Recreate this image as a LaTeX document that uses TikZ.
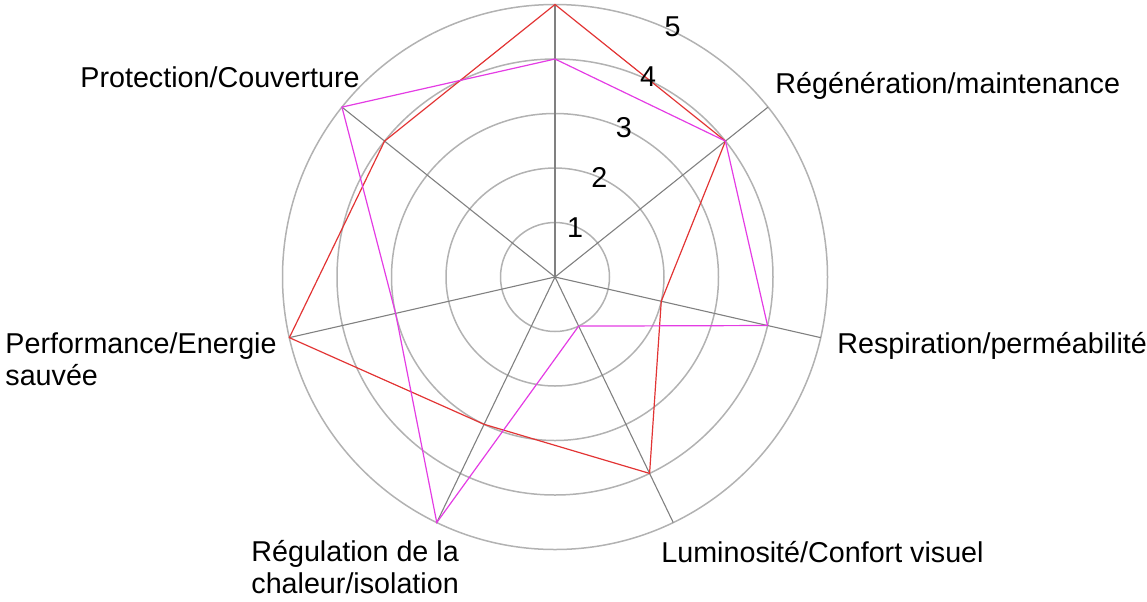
\documentclass[tikz,border=0pt]{standalone}
\usepackage{fontspec}
\setmainfont{Liberation Sans}
\definecolor{ringgray}{RGB}{178,178,178}
\definecolor{axisgray}{RGB}{128,128,128}
\definecolor{redline}{RGB}{226,52,52}
\definecolor{magline}{RGB}{228,60,228}
\begin{document}
\begin{tikzpicture}[x=0.5pt,y=-0.5pt,
  ring/.style={draw=ringgray,line width=0.75pt},
  axisline/.style={draw=axisgray,line width=0.55pt},
  series/.style={line width=0.6pt,line join=miter},
  lbl/.style={font=\fontsize{14.35pt}{16pt}\selectfont,inner sep=0pt,align=left},
  num/.style={font=\fontsize{14.35pt}{16pt}\selectfont,inner sep=0pt}]
\useasboundingbox (0,0) rectangle (1147,601);
\coordinate (c) at (555,277);
\begin{scope}[shift={(c)},y=0.5pt]
  % rings
  \foreach \k in {1,...,5}
    \draw[ring] (0,0) circle[radius=54.5*\k];
  % axes
  \foreach \i in {0,...,6}{
    \coordinate (ax\i) at ({90-\i*360/7}:272.5);
    \draw[axisline] (0,0) -- (ax\i);
  }
  % red series: 5,4,2,4,3,5,4
  \foreach \i/\v in {0/5,1/4,2/2,3/4,4/3,5/5,6/4}
    \coordinate (r\i) at ({90-\i*360/7}:54.5*\v);
  % magenta series: 4,4,4,1,5,3,5
  \foreach \i/\v in {0/4,1/4,2/4,3/1,4/5,5/3,6/5}
    \coordinate (m\i) at ({90-\i*360/7}:54.5*\v);
\end{scope}
\draw[series,draw=redline] (r0)--(r1)--(r2)--(r3)--(r4)--(r5)--(r6)--cycle;
\draw[series,draw=magline] (m0)--(m1)--(m2)--(m3)--(m4)--(m5)--(m6)--cycle;
% scale numbers
\foreach \k in {1,...,5}
  \node[num] (n\k) at ({550.6+24.4*\k},{278.3-50.3*\k}) {\k};
% axis labels
\node[lbl,anchor=base west] (lprot) at (80,87) {Protection/Couverture};
\node[lbl,anchor=base west] (lreg) at (775,93) {Régénération/maintenance};
\node[lbl,anchor=base west] (lresp) at (837,353) {Respiration/perméabilité};
\node[lbl,anchor=north west] (lperf) at (5,332) {Performance/Energie\\sauvée};
\node[lbl,anchor=north west] (lregu) at (251,540) {Régulation de la\\chaleur/isolation};
\node[lbl,anchor=base west] (llum) at (661,562) {Luminosité/Confort visuel};
\end{tikzpicture}
\end{document}
